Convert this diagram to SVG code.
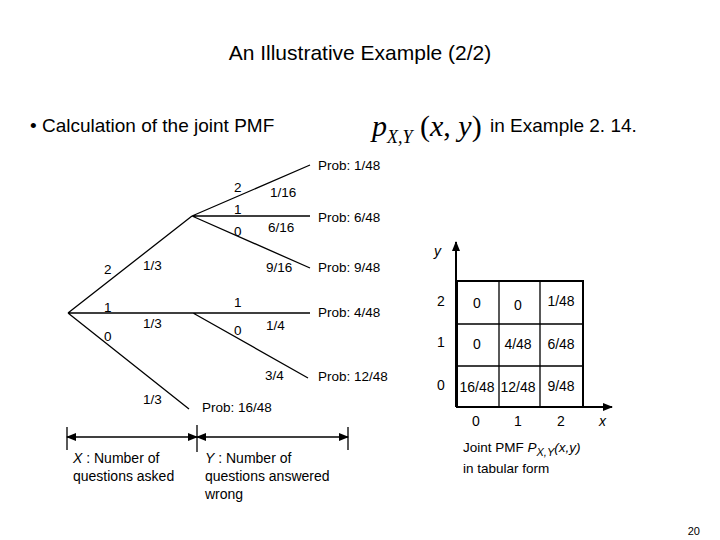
<svg xmlns="http://www.w3.org/2000/svg" width="720" height="540" viewBox="0 0 720 540">
<style>
text{font-family:"Liberation Sans",Arial,sans-serif;fill:#000}
.s{font-size:13.5px}
.c{font-size:14px}
.ln{stroke:#000;stroke-width:1.3;fill:none}
.g{stroke:#000;stroke-width:2;fill:none}
</style>
<defs>
<marker id="ah" markerWidth="10" markerHeight="8" refX="9" refY="4" orient="auto-start-reverse" markerUnits="userSpaceOnUse"><path d="M0,0 L10,4 L0,8 z"/></marker>
</defs>
<rect width="720" height="540" fill="#fff"/>
<text x="360" y="60" text-anchor="middle" font-size="21">An Illustrative Example (2/2)</text>
<text x="30" y="132" font-size="19">•  Calculation of the joint PMF</text>
<text x="372" y="136" font-size="30" font-style="italic" style="font-family:'Liberation Serif',serif">p<tspan font-size="18" dy="7">X</tspan><tspan font-size="18">,</tspan><tspan font-size="18">Y</tspan><tspan dy="-7" font-style="normal"> (</tspan>x<tspan font-style="normal">, </tspan>y<tspan font-style="normal">)</tspan></text>
<text x="490" y="132" font-size="19">in Example 2. 14.</text>
<g id="connectors">
<path class="ln" d="M68,313 L192,216 M68,313 L310,313 M68,313 L189,409 M192,216 L310,165 M192,216 L310,216 M192,216 L310,268 M193,313 L308,378"/>
<path class="ln" d="M67,437 L197,437" marker-start="url(#ah)" marker-end="url(#ah)"/>
<path class="ln" d="M197,437 L348,437" marker-start="url(#ah)" marker-end="url(#ah)"/>
<path class="ln" d="M67,427 V450 M197,425 V452 M348,427 V450"/>
<path class="g" d="M456,407 V242" marker-end="url(#ah)"/>
<path class="g" d="M456,407 H612" marker-end="url(#ah)"/>
</g>
<g id="tree" class="s">
<text x="104" y="274">2</text><text x="143" y="270">1/3</text>
<text x="104" y="312">1</text><text x="143" y="328">1/3</text>
<text x="104" y="341">0</text><text x="143" y="404">1/3</text>
<text x="234" y="192">2</text><text x="270" y="197">1/16</text>
<text x="234" y="214">1</text><text x="268" y="232">6/16</text>
<text x="234" y="236">0</text><text x="266" y="272">9/16</text>
<text x="234" y="307">1</text><text x="266" y="330">1/4</text>
<text x="234" y="335">0</text><text x="265" y="380">3/4</text>
<text x="318" y="170">Prob: 1/48</text>
<text x="318" y="222">Prob: 6/48</text>
<text x="318" y="272">Prob: 9/48</text>
<text x="318" y="317">Prob: 4/48</text>
<text x="318" y="381">Prob: 12/48</text>
<text x="202" y="412">Prob: 16/48</text>
</g>
<g id="labels" class="c">
<text x="73" y="463"><tspan font-style="italic">X</tspan> : Number of</text>
<text x="73" y="481">questions asked</text>
<text x="205" y="463"><tspan font-style="italic">Y</tspan> : Number of</text>
<text x="205" y="481">questions answered</text>
<text x="205" y="499">wrong</text>
</g>
<g id="table">
<rect x="457" y="281" width="126" height="126" class="g"/>
<path class="ln" d="M457,324 H583 M457,366 H583 M499,281 V407 M540,281 V407"/>
<g class="c" text-anchor="middle">
<text x="477" y="308">0</text><text x="518" y="310">0</text><text x="561" y="306">1/48</text>
<text x="477" y="349">0</text><text x="518" y="349">4/48</text><text x="561" y="349">6/48</text>
<text x="477" y="392">16/48</text><text x="518" y="392">12/48</text><text x="561" y="391">9/48</text>
<text x="441" y="306">2</text><text x="441" y="347">1</text><text x="441" y="390">0</text>
<text x="476" y="426">0</text><text x="518" y="426">1</text><text x="561" y="426">2</text>
</g>
<text x="434" y="256" class="c" font-style="italic">y</text>
<text x="599" y="426" class="c" font-style="italic">x</text>
<text x="463" y="452" class="s">Joint PMF <tspan font-style="italic">P</tspan><tspan font-style="italic" font-size="11" dy="4">X,Y</tspan><tspan font-style="italic" dy="-4">(x,y)</tspan></text>
<text x="463" y="473" class="s">in tabular form</text>
</g>
<text x="700" y="535" font-size="11" text-anchor="end">20</text>
</svg>
